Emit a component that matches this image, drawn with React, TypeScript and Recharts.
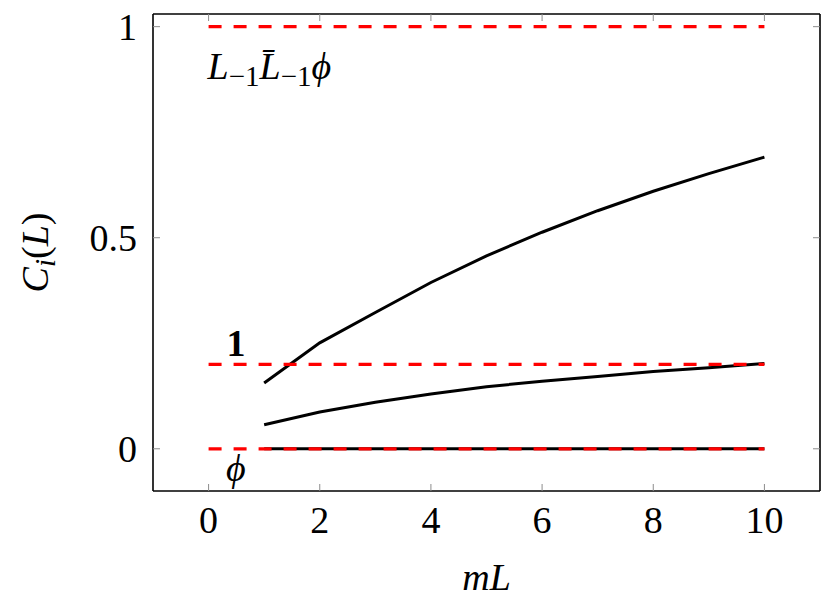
import { LineChart, Line, XAxis, YAxis, ReferenceLine, ReferenceDot, Label } from "recharts"

// mL values where the correlators were evaluated
const mLValues = [1, 2, 3, 4, 5, 6, 7, 8, 9, 10]
// C_i(L)
const upperCurve = [0.156, 0.251, 0.323, 0.394, 0.457, 0.513, 0.564, 0.61, 0.652, 0.691]
const lowerCurve = [0.057, 0.087, 0.11, 0.13, 0.147, 0.16, 0.171, 0.183, 0.192, 0.202]
const bottomCurve = [0, 0, 0, 0, 0, 0, 0, 0, 0, 0]

// conformal limits (red dashed) from mL = 0 to 10
const limitLevels = [1, 0.2, 0]
const limitStart = 0
const limitEnd = 10

const xTicks = [0, 2, 4, 6, 8, 10]
const yTicks = [0, 0.5, 1]
const xDomain = [-1, 11]
const yDomain = [-0.1, 1.03]

const data = mLValues.map((x, i) => ({
  x,
  upper: upperCurve[i],
  lower: lowerCurve[i],
  bottom: bottomCurve[i],
}))

const FONT = "'Liberation Serif', 'DejaVu Serif', serif"
const TICK_GRAY = "#8c8c8c"

function BottomTick({ x, y, payload }: any) {
  return (
    <g>
      <line x1={x} x2={x} y1={y} y2={y - 7} stroke={TICK_GRAY} strokeWidth={1} />
      <text x={x} y={y + 42} textAnchor="middle" fontFamily={FONT} fontSize={38} fill="#000">
        {payload.value}
      </text>
    </g>
  )
}

function TopTick({ x, y }: any) {
  return <line x1={x} x2={x} y1={y} y2={y + 7} stroke={TICK_GRAY} strokeWidth={1} />
}

function LeftTick({ x, y, payload }: any) {
  return (
    <g>
      <line x1={x} x2={x + 7} y1={y} y2={y} stroke={TICK_GRAY} strokeWidth={1} />
      <text x={x - 16} y={y} dy="0.35em" textAnchor="end" fontFamily={FONT} fontSize={38} fill="#000">
        {payload.value}
      </text>
    </g>
  )
}

function RightTick({ x, y }: any) {
  return <line x1={x} x2={x - 7} y1={y} y2={y} stroke={TICK_GRAY} strokeWidth={1} />
}

function XTitle({ viewBox }: any) {
  return (
    <text x={viewBox.x + viewBox.width / 2} y={viewBox.y + 99} textAnchor="middle" fontFamily={FONT} fontSize={38} fontStyle="italic">
      mL
    </text>
  )
}

function YTitle({ viewBox }: any) {
  const cx = 48
  const cy = viewBox.y + viewBox.height / 2
  return (
    <text x={cx} y={cy} textAnchor="middle" fontFamily={FONT} fontSize={38} transform={`rotate(-90 ${cx} ${cy})`}>
      <tspan fontStyle="italic">C</tspan>
      <tspan fontStyle="italic" fontSize={29} dy={7}>i</tspan>
      <tspan dy={-7}>(</tspan>
      <tspan fontStyle="italic">L</tspan>
      <tspan>)</tspan>
    </text>
  )
}

function DescendantLabel({ viewBox }: any) {
  return (
    <text x={viewBox.x} y={viewBox.y} fontFamily={FONT} fontSize={38}>
      <tspan fontStyle="italic">L</tspan>
      <tspan fontSize={29} dy={7}>−1</tspan>
      <tspan fontStyle="italic" dy={-7}>{"L\u0304"}</tspan>
      <tspan fontSize={29} dy={7}>−1</tspan>
      <tspan fontStyle="italic" dy={-7}>{"\u03d5"}</tspan>
    </text>
  )
}

function IdentityLabel({ viewBox }: any) {
  return (
    <text x={viewBox.x} y={viewBox.y} textAnchor="middle" fontFamily={FONT} fontSize={38} fontWeight="bold">
      1
    </text>
  )
}

function PhiLabel({ viewBox }: any) {
  return (
    <text x={viewBox.x} y={viewBox.y} textAnchor="middle" fontFamily={FONT} fontSize={38} fontStyle="italic">
      {"\u03d5"}
    </text>
  )
}

export default function App() {
  return (
    <div style={{ position: "absolute", left: 0, top: 0, background: "#fff" }}>
      <LineChart width={821} height={605} data={data} margin={{ top: 13, right: 0, bottom: 0, left: 0 }}>
        <XAxis
          dataKey="x"
          type="number"
          domain={xDomain}
          ticks={xTicks}
          height={114}
          tickSize={0}
          tickMargin={0}
          tick={<BottomTick />}
          axisLine={{ stroke: "#000", strokeWidth: 1.6 }}
          allowDataOverflow
        >
          <Label content={<XTitle />} />
        </XAxis>
        <XAxis
          xAxisId="top"
          orientation="top"
          dataKey="x"
          type="number"
          domain={xDomain}
          ticks={xTicks}
          height={1}
          tickSize={0}
          tickMargin={0}
          tick={<TopTick />}
          axisLine={{ stroke: "#000", strokeWidth: 1.6 }}
          allowDataOverflow
        />
        <YAxis
          type="number"
          domain={yDomain}
          ticks={yTicks}
          width={153}
          tickSize={0}
          tickMargin={0}
          tick={<LeftTick />}
          axisLine={{ stroke: "#000", strokeWidth: 1.6 }}
          allowDataOverflow
        >
          <Label content={<YTitle />} />
        </YAxis>
        <YAxis
          yAxisId="right"
          orientation="right"
          type="number"
          domain={yDomain}
          ticks={yTicks}
          width={1}
          tickSize={0}
          tickMargin={0}
          tick={<RightTick />}
          axisLine={{ stroke: "#000", strokeWidth: 1.6 }}
          allowDataOverflow
        />
        <Line dataKey="upper" stroke="#000" strokeWidth={3} dot={false} isAnimationActive={false} />
        <Line dataKey="lower" stroke="#000" strokeWidth={3} dot={false} isAnimationActive={false} />
        <Line dataKey="bottom" stroke="#000" strokeWidth={3} dot={false} isAnimationActive={false} />
        {limitLevels.map((lv) => (
          <ReferenceLine
            key={lv}
            segment={[
              { x: limitStart, y: lv },
              { x: limitEnd, y: lv },
            ]}
            stroke="#ff0000"
            strokeWidth={3.2}
            strokeDasharray="13 12"
          />
        ))}
        <ReferenceDot x={0} y={0.874} r={1} fill="none" stroke="none" label={<DescendantLabel />} />
        <ReferenceDot x={0.51} y={0.217} r={1} fill="none" stroke="none" label={<IdentityLabel />} />
        <ReferenceDot x={0.51} y={-0.079} r={1} fill="none" stroke="none" label={<PhiLabel />} />
      </LineChart>
    </div>
  )
}
